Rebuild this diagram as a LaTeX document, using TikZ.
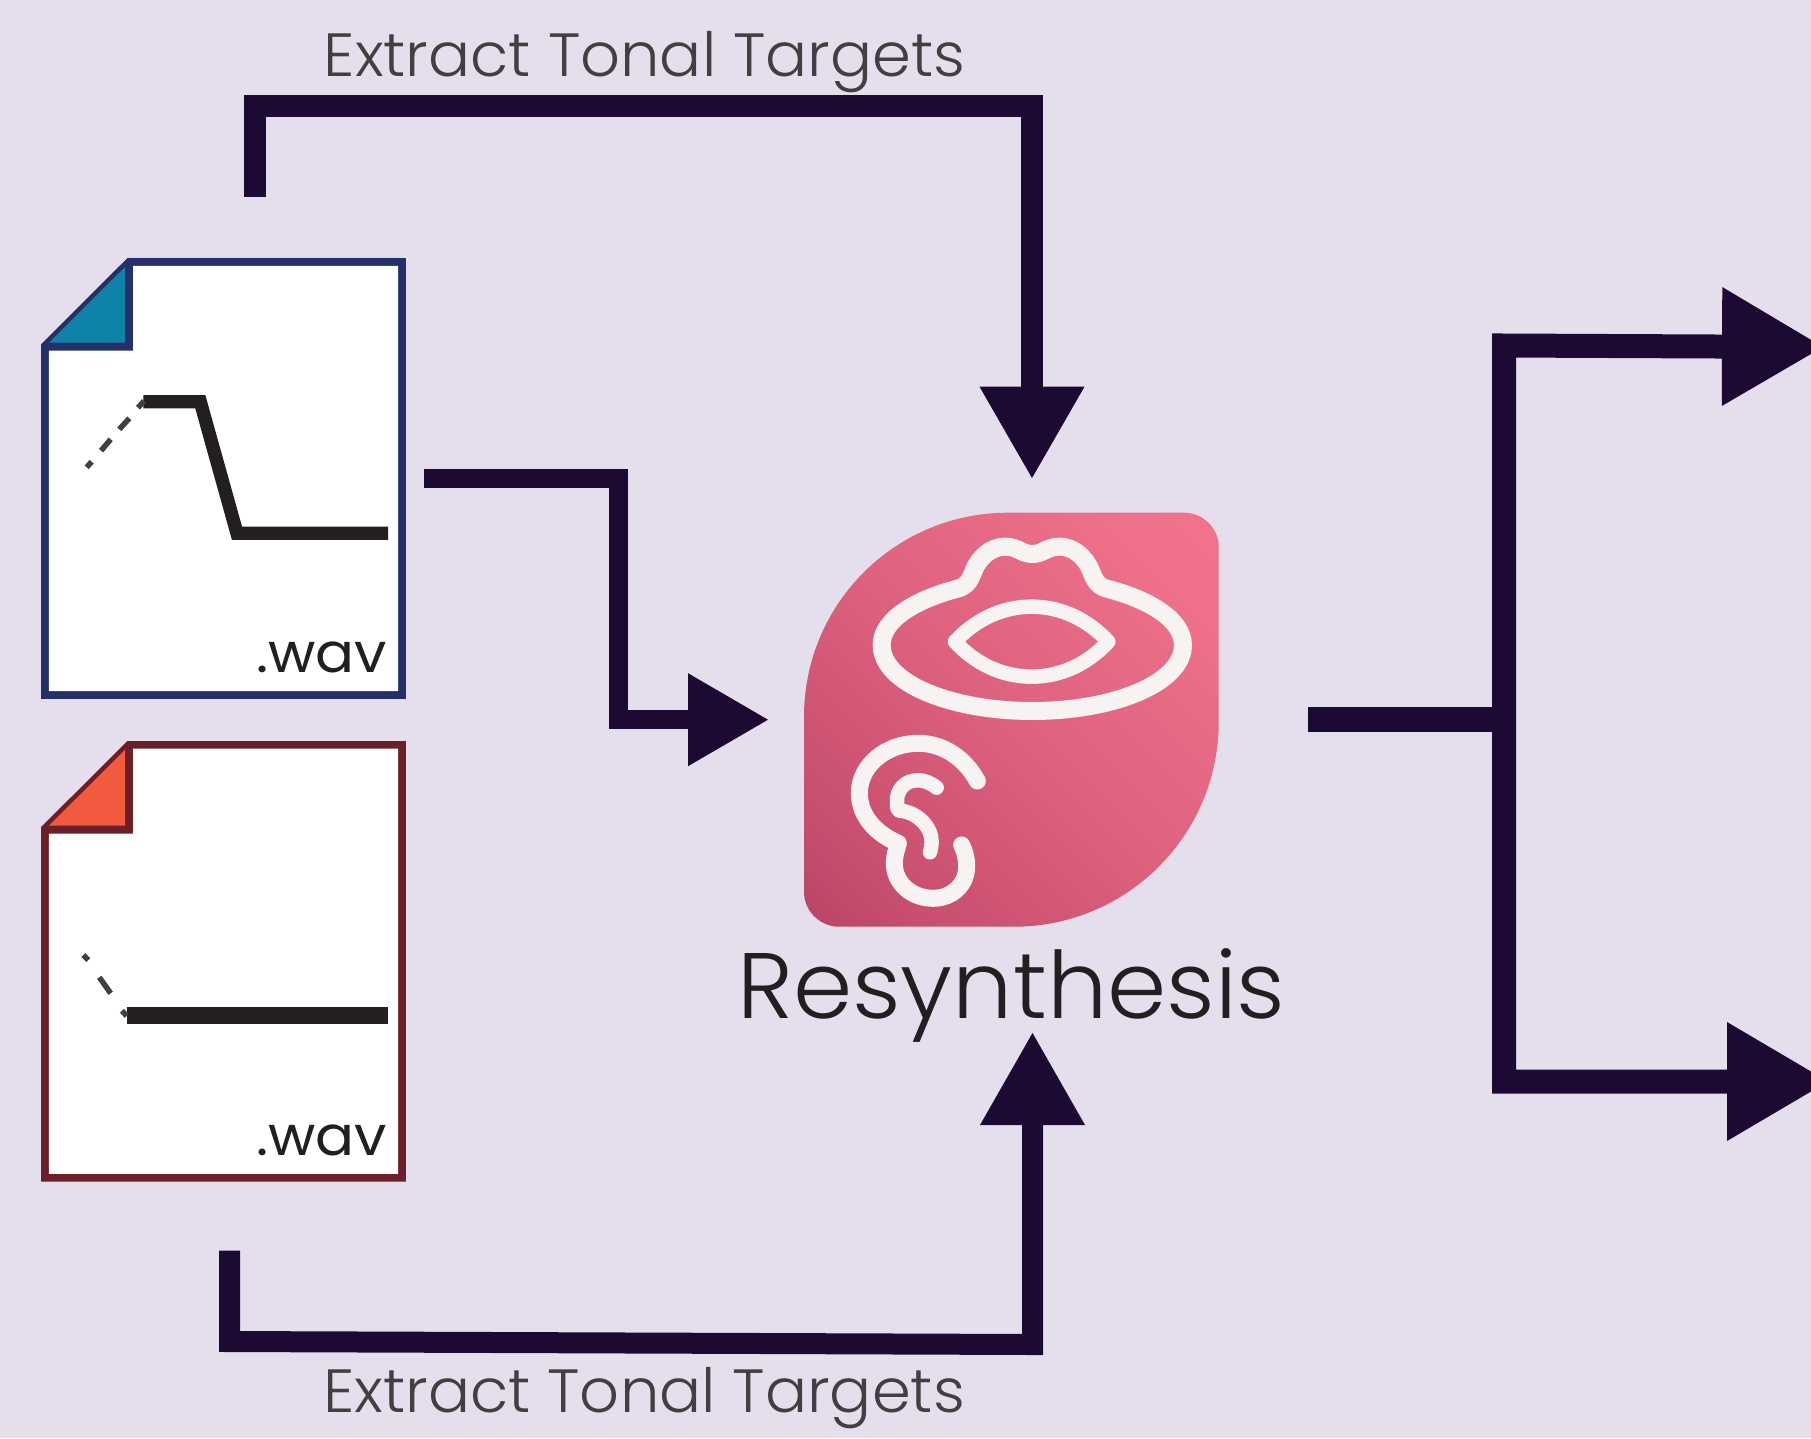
\documentclass[tikz,border=0pt]{standalone}
\usepackage{fontspec}
\usepackage{graphicx}
\newfontfamily\lab{Poppins}[UprightFont={* Light}]
\newfontfamily\labr{Poppins}
\usetikzlibrary{arrows.meta}
\definecolor{bgc}{HTML}{E5DFED}
\definecolor{arrc}{HTML}{1C0A33}
\definecolor{bluec}{HTML}{24306A}
\definecolor{tealc}{HTML}{0F82A8}
\definecolor{redc}{HTML}{6A2026}
\definecolor{orangec}{HTML}{F25A40}
\definecolor{inkc}{HTML}{231F20}
\definecolor{grayc}{HTML}{404040}
\definecolor{iconc}{HTML}{F7F3F3}
\pgfdeclareverticalshading{leafgrad}{100bp}{
  color(0bp)=(rgb,255:red,174;green,60;blue,94);
  color(8bp)=(rgb,255:red,176;green,62;blue,96);
  color(25bp)=(rgb,255:red,200;green,78;blue,110);
  color(50bp)=(rgb,255:red,221;green,98;blue,126);
  color(75bp)=(rgb,255:red,238;green,112;blue,138);
  color(90bp)=(rgb,255:red,243;green,116;blue,141);
  color(100bp)=(rgb,255:red,243;green,116;blue,141)}
\newcommand{\filepage}[3]{%
  \begin{scope}[yshift=#1]
  \fill[#2] (41.1,344.3) -- (127.3,258.2) -- (405.9,258.2) -- (405.9,698.9) -- (41.1,698.9) -- cycle;
  \fill[white] (133,265.9) -- (398,265.9) -- (398,691) -- (48.9,691) -- (48.9,350.7) -- (133,350.7) -- cycle;
  \fill[#3] (125.2,266.8) -- (125.2,342.7) -- (49.2,342.7) -- cycle;
  \end{scope}}
\tikzset{
  conn/.style={draw=arrc,line join=miter,line cap=butt},
  tone/.style={draw=inkc,line join=miter},
  dashseg/.style={draw=grayc,line width=5.5pt},
  iconline/.style={draw=iconc,line cap=round,line join=round},
  lbl/.style={inner sep=0pt,anchor=base west},
}
\begin{document}
\begin{tikzpicture}[x=1pt,y=-1pt]
\useasboundingbox (0,0) rectangle (1811,1438);
\clip (0,0) rectangle (1811,1438);
\fill[bgc] (0,0) rectangle (1811,1438);
% --- coordinates
\coordinate (aTop) at (255,196.7);
\coordinate (aTopA) at (255,105.8);
\coordinate (aTopB) at (1032,105.8);
\coordinate (tipTop) at (1032,478);
\coordinate (aBot) at (229.5,1250.7);
\coordinate (aBotA) at (229.5,1341.5);
\coordinate (aBotB) at (1032.5,1344.5);
\coordinate (tipBot) at (1032.5,1033);
\coordinate (aMid) at (424,478.5);
\coordinate (aMidA) at (618,478.5);
\coordinate (aMidB) at (618,719.7);
\coordinate (tipMid) at (768,719.7);
\coordinate (outS) at (1308,719.5);
\coordinate (outJ) at (1510,719.5);
\coordinate (busT) at (1504,345.5);
\coordinate (busB) at (1504,1081.5);
\coordinate (tipR1) at (1823,347);
\coordinate (tipR2) at (1828,1081.5);
% --- files
\filepage{0pt}{bluec}{tealc}
\draw[tone,line width=13.3pt] (143.3,401.7) -- (200.3,401.7) -- (237,533.3) -- (388,533.3);
\draw[dashseg] (86.7,467.3) -- (91.7,461.7) (101,450.7) -- (110.7,439.3) (119.3,429.3) -- (129.3,418.3) (138,407.7) -- (144,401);
\node[lbl,text=inkc] (wavA) at (256,672.7) {\scalebox{1.05}[1]{\labr\fontsize{55}{55}\selectfont .wav}};
\filepage{-482.8pt}{redc}{orangec}
\draw[tone,line width=16.7pt] (126.7,1015.7) -- (388,1015.7);
\draw[dashseg] (83.3,955) -- (88.3,960) (99.3,977.3) -- (110.7,993.3) (122,1010.7) -- (126.7,1016);
\node[lbl,text=inkc] (wavB) at (256,1155.7) {\scalebox{1.05}[1]{\labr\fontsize{55}{55}\selectfont .wav}};
% --- icon
\path[shade,shading=leafgrad,shading angle=-45]
  (804,716.7) .. controls (804,604) and (895,512.7) .. (1008,512.7) -- (1184,512.7)
  .. controls (1203,512.7) and (1218.7,528) .. (1218.7,547) -- (1218.7,722)
  .. controls (1218.7,835) and (1127,926.7) .. (1014,926.7) -- (839,926.7)
  .. controls (820,926.7) and (804,911) .. (804,892) -- cycle;
\begin{scope}[shift={(780,490)},x=0.3333pt,y=-0.3333pt]
\draw[iconline,line width=18pt] (757,192) .. controls (790,192) and (800,170) .. (838,170)
  .. controls (885,170) and (915,205) .. (930,235)
  .. controls (945,275) and (955,290) .. (985,297)
  .. controls (1110,330) and (1209,390) .. (1209,465)
  .. controls (1209,580) and (1000,663) .. (757,663)
  .. controls (514,663) and (305,580) .. (305,465)
  .. controls (305,390) and (404,330) .. (529,297)
  .. controls (559,290) and (569,275) .. (584,235)
  .. controls (599,205) and (629,170) .. (676,170)
  .. controls (714,170) and (724,192) .. (757,192) -- cycle;
\draw[iconline,line width=14.5pt] (525,455) .. controls (585,390) and (665,350) .. (755,350)
  .. controls (845,350) and (925,390) .. (985,455)
  .. controls (925,520) and (845,560) .. (755,560)
  .. controls (665,560) and (585,520) .. (525,455) -- cycle;
\draw[iconline,line width=17pt] (592,873) .. controls (555,805) and (490,760) .. (415,760)
  .. controls (320,760) and (238,825) .. (238,910)
  .. controls (238,975) and (285,1030) .. (355,1060)
  .. controls (350,1080) and (343,1095) .. (343,1120)
  .. controls (343,1180) and (395,1225) .. (460,1225)
  .. controls (515,1225) and (560,1185) .. (560,1130)
  .. controls (560,1105) and (555,1085) .. (545,1065);
\draw[iconline,line width=14.5pt] (470,893) .. controls (450,878) and (435,871) .. (412,871)
  .. controls (375,871) and (351,900) .. (351,930)
  .. controls (351,945) and (351,962) .. (358,962)
  .. controls (410,965) and (455,1010) .. (455,1055)
  .. controls (455,1065) and (453,1075) .. (450,1087);
\end{scope}
% --- labels
\node[lbl,text=inkc] (res) at (737,1018.5) {\scalebox{1.024}[1]{\lab\fontsize{93}{93}\selectfont Resynthesis}};
\node[lbl,text=grayc] (lblT) at (323.5,76.7) {\scalebox{1.022}[1]{\lab\fontsize{61}{61}\selectfont Extract Tonal Targets}};
\node[lbl,text=grayc] (lblB) at (323,1412.7) {\scalebox{1.022}[1]{\lab\fontsize{61}{61}\selectfont Extract Tonal Targets}};
% --- connectors
\draw[conn,line width=21.7pt,-{Triangle[length=91.3pt,width=105pt,sep=0pt,line width=0pt]}] (aTop) -- (aTopA) -- (aTopB) -- (tipTop);
\draw[conn,line width=21pt,-{Triangle[length=92pt,width=105pt,sep=0pt,line width=0pt]}] (aBot) -- (aBotA) -- (aBotB) -- (tipBot);
\draw[conn,line width=19pt,-{Triangle[length=80pt,width=93pt,sep=0pt,line width=0pt]}] (aMid) -- (aMidA) -- (aMidB) -- (tipMid);
\draw[conn,line width=25pt] (outS) -- (outJ);
\draw[conn,line width=24pt,{Triangle[length=101pt,width=119pt,sep=0pt,line width=0pt]}-{Triangle[length=101pt,width=119pt,sep=0pt,line width=0pt]}] (tipR1) -- (busT) -- (busB) -- (tipR2);
\end{tikzpicture}
\end{document}
